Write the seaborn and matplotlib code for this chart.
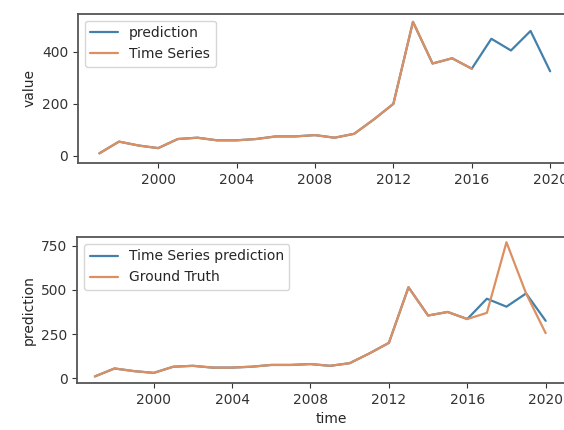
import pandas as pd
import matplotlib
matplotlib.use("Agg")
import matplotlib.pyplot as plt
import seaborn as sns

years = list(range(1997, 2021))
prediction = [10, 55, 40, 30, 65, 70, 60, 60, 65, 75, 75, 80, 70, 85, 140, 200,
              515, 355, 375, 335, 450, 405, 480, 325]
time_series = [10, 55, 40, 30, 65, 70, 60, 60, 65, 75, 75, 80, 70, 85, 140, 200,
               515, 355, 375, 335]
ground_truth = [10, 55, 40, 30, 65, 70, 60, 60, 65, 75, 75, 80, 70, 85, 140, 200,
                515, 355, 375, 335, 370, 770, 480, 255]

sns.set_style("ticks")
plt.rcParams['font.family'] = ['DejaVu Sans']
plt.rcParams['font.size'] = 10

blue = '#4380aa'
orange = '#dc9062'

pred_df = pd.DataFrame({'time': years, 'value': prediction})
ts_df = pd.DataFrame({'time': years[:len(time_series)], 'value': time_series})
gt_df = pd.DataFrame({'time': years, 'value': ground_truth})

fig = plt.figure(figsize=(5.64, 4.3), dpi=100)
# axes run past the right edge, like the cropped original
ax1 = fig.add_axes([0.138, 0.621, 0.90, 0.347])
ax2 = fig.add_axes([0.137, 0.109, 0.90, 0.340])

sns.lineplot(data=pred_df, x='time', y='value', ax=ax1, color=blue,
             label='prediction', linewidth=1.6)
sns.lineplot(data=ts_df, x='time', y='value', ax=ax1, color=orange,
             label='Time Series', linewidth=1.6)
ax1.set_xlim(1995.9, 2021.8)
ax1.set_ylim(-27, 546)
ax1.set_xticks([2000, 2004, 2008, 2012, 2016, 2020])
ax1.set_yticks([0, 200, 400])
ax1.set_xlabel('')
ax1.set_ylabel('value')
ax1.legend(loc='upper left')

sns.lineplot(data=pred_df, x='time', y='value', ax=ax2, color=blue,
             label='Time Series prediction', linewidth=1.6)
sns.lineplot(data=gt_df, x='time', y='value', ax=ax2, color=orange,
             label='Ground Truth', linewidth=1.6)
ax2.set_xlim(1996.1, 2022.0)
ax2.set_ylim(-28, 800)
ax2.set_xticks([2000, 2004, 2008, 2012, 2016, 2020])
ax2.set_yticks([0, 250, 500, 750])
ax2.set_xlabel('time')
ax2.set_ylabel('prediction')
ax2.legend(loc='upper left')

for ax in (ax1, ax2):
    for s in ax.spines.values():
        s.set_linewidth(1.3)
        s.set_color('#555555')
    ax.tick_params(colors='#333333', labelsize=10)

fig.savefig('out.png', dpi=100)
